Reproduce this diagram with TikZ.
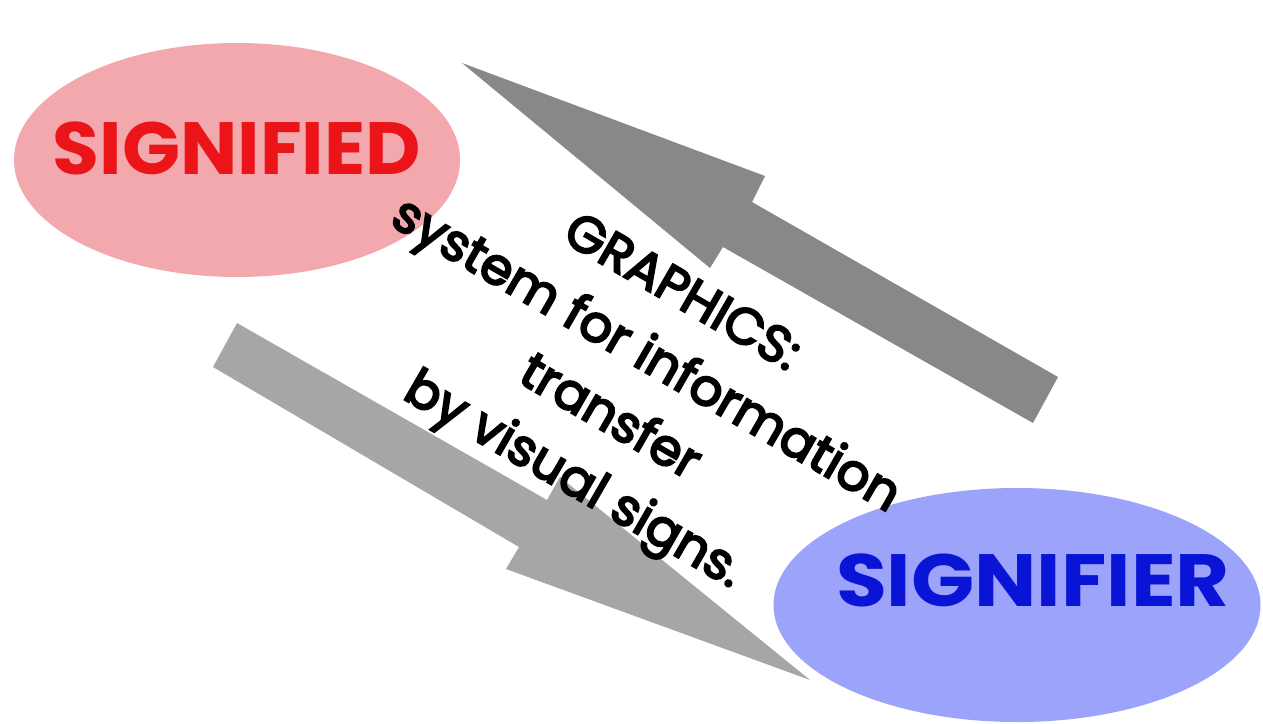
\documentclass[tikz,border=0pt]{standalone}
\usepackage{fontspec}
\setmainfont{Poppins}
\newfontfamily\capfont{Poppins}[FakeBold=4]
\usetikzlibrary{shapes.geometric}
\definecolor{pinkfill}{RGB}{242,168,172}
\definecolor{bluefill}{RGB}{155,164,250}
\definecolor{redtext}{RGB}{235,20,25}
\definecolor{bluetext}{RGB}{10,20,215}
\definecolor{darkarrow}{RGB}{136,136,136}
\definecolor{lightarrow}{RGB}{166,166,166}
\tikzset{
  blob/.style={ellipse, draw=none, inner sep=0pt},
  bigword/.style={font=\fontsize{74}{86}\selectfont\bfseries},
  caption/.style={align=center, rotate=-30, font=\capfont\fontsize{51}{72}\selectfont, text=black}
}
\begin{document}
\begin{tikzpicture}[x=1pt,y=-1pt]
\useasboundingbox (0,0) rectangle (1263,723);
\fill[white] (0,0) rectangle (1263,723);
% ellipses
\node[blob, fill=pinkfill, minimum width=446pt, minimum height=234pt] (signified) at (237,160) {};
\node[blob, fill=bluefill, minimum width=487pt, minimum height=234pt] (signifier) at (1017,605) {};
% upper arrow (pointing up-left)
\coordinate (upTip) at (462,63);
\fill[darkarrow] (upTip) -- (765,176) -- (752,202) -- (1058,377) -- (1033,423) -- (723,247) -- (710,268) -- cycle;
% lower arrow (pointing down-right)
\coordinate (downTip) at (810,680);
\fill[lightarrow] (237,323) -- (547,500) -- (560,477) -- (downTip) -- (506,569) -- (519,547) -- (213,367) -- cycle;
% labels
\node[bigword, text=redtext] (lblA) at (237,148) {\scalebox{1.03}[1]{SIGNIFIED}};
\node[bigword, text=bluetext] (lblB) at (1033,580) {\scalebox{1.12}[1]{SIGNIFIER}};
\node[caption] (cap) at (626,390) {GRAPHICS:\\system for information\\transfer\\by visual signs.};
\end{tikzpicture}
\end{document}
